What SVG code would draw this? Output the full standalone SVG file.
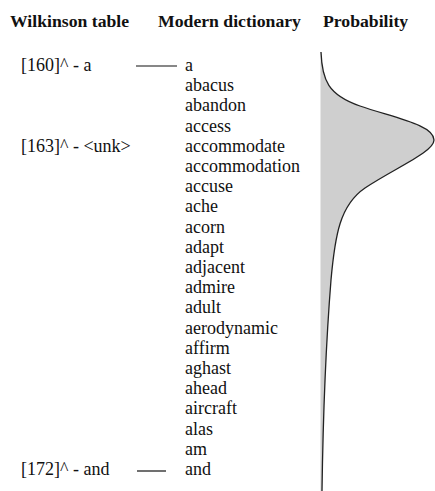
<svg xmlns="http://www.w3.org/2000/svg" width="435" height="491" viewBox="0 0 435 491">
<style>
  .hdr { font-family: "Liberation Serif", "Times New Roman", serif; font-weight: bold; font-size: 17.7px; fill: #111; }
  .txt { font-family: "Liberation Serif", "Times New Roman", serif; font-size: 18px; fill: #111; }
  .conn { stroke: #111; stroke-width: 1.2; fill: none; }
  .curve { stroke: #222; stroke-width: 1.3; fill: none; }
</style>
<rect width="435" height="491" fill="#ffffff"/>
<g id="headers">
  <text class="hdr" x="10" y="27">Wilkinson table</text>
  <text class="hdr" x="158" y="27">Modern dictionary</text>
  <text class="hdr" x="323" y="27">Probability</text>
</g>
<g id="wilkinson">
  <g id="w160"><text class="txt" x="21" y="71">[160]^ - a</text></g>
  <g id="w163"><text class="txt" x="21" y="151.8">[163]^ - &lt;unk&gt;</text></g>
  <g id="w172"><text class="txt" x="21" y="475">[172]^ - and</text></g>
</g>
<g id="dictionary" class="txt">
  <text x="185" y="71">a</text>
  <text x="185" y="91.2">abacus</text>
  <text x="185" y="111.4">abandon</text>
  <text x="185" y="131.6">access</text>
  <text x="185" y="151.8">accommodate</text>
  <text x="185" y="172">accommodation</text>
  <text x="185" y="192.2">accuse</text>
  <text x="185" y="212.4">ache</text>
  <text x="185" y="232.6">acorn</text>
  <text x="185" y="252.8">adapt</text>
  <text x="185" y="273">adjacent</text>
  <text x="185" y="293.2">admire</text>
  <text x="185" y="313.4">adult</text>
  <text x="185" y="333.6">aerodynamic</text>
  <text x="185" y="353.8">affirm</text>
  <text x="185" y="374">aghast</text>
  <text x="185" y="394.2">ahead</text>
  <text x="185" y="414.4">aircraft</text>
  <text x="185" y="434.6">alas</text>
  <text x="185" y="454.8">am</text>
  <text x="185" y="475">and</text>
</g>
<g id="connectors">
  <line class="conn" x1="136" y1="66" x2="177" y2="66"/>
  <line class="conn" x1="137" y1="471" x2="166" y2="471"/>
</g>
<g id="probability">
  <path d="M321,52 C322,80 328,95 360,106 C395,118 434,125 434,140 C434,152 395,168 365,188 C340,205 335,235 331,280 C327,330 323,420 322,491 L320.5,491 L320.5,52 Z" fill="#cfcfcf" stroke="none"/>
  <path class="curve" d="M321,52 C322,80 328,95 360,106 C395,118 434,125 434,140 C434,152 395,168 365,188 C340,205 335,235 331,280 C327,330 323,420 322,491"/>
</g>
</svg>
